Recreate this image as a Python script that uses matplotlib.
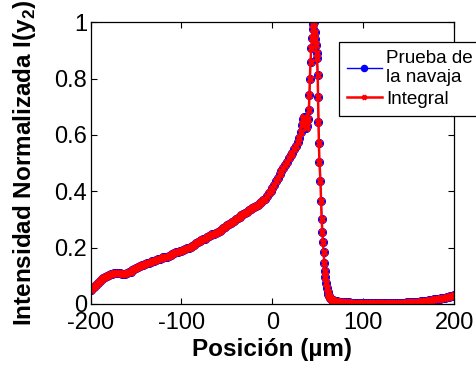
import numpy as np
import matplotlib
matplotlib.use("Agg")
from matplotlib import pyplot as plt

plt.rcParams['font.family'] = ['Liberation Sans', 'DejaVu Sans']
plt.rcParams['mathtext.fontset'] = 'custom'
plt.rcParams['mathtext.rm'] = 'Liberation Sans:bold'
plt.rcParams['mathtext.bf'] = 'Liberation Sans:bold'
plt.rcParams['axes.unicode_minus'] = False

# lado izquierdo, cada 2 um
x_izq = np.arange(-200, 29, 2)
y_izq = [0.050, 0.056, 0.062, 0.069, 0.075, 0.081, 0.087, 0.092, 0.097, 0.101,
         0.104, 0.106, 0.108, 0.109, 0.110, 0.110, 0.109, 0.108, 0.108, 0.108,
         0.110, 0.112, 0.115, 0.119, 0.124, 0.128, 0.132, 0.135, 0.138, 0.140,
         0.143, 0.145, 0.147, 0.149, 0.151, 0.153, 0.155, 0.158, 0.160, 0.163,
         0.165, 0.166, 0.168, 0.170, 0.173, 0.176, 0.180, 0.183, 0.185, 0.187,
         0.189, 0.191, 0.194, 0.197, 0.200, 0.203, 0.207, 0.211, 0.215, 0.219,
         0.223, 0.226, 0.229, 0.232, 0.236, 0.240, 0.243, 0.247, 0.250, 0.253,
         0.256, 0.260, 0.264, 0.269, 0.274, 0.279, 0.283, 0.287, 0.292, 0.296,
         0.300, 0.304, 0.309, 0.314, 0.319, 0.324, 0.328, 0.333, 0.337, 0.340,
         0.344, 0.348, 0.352, 0.357, 0.362, 0.368, 0.374, 0.383, 0.392, 0.401,
         0.410, 0.422, 0.435, 0.448, 0.460, 0.471, 0.482, 0.494, 0.505, 0.517,
         0.528, 0.537, 0.550, 0.562, 0.575]

# zona del pico
x_pico = [29.5, 31.0, 32.5, 33.5, 34.5, 35.5, 36.5, 37.5, 38.5, 39.5,
          40.2, 40.8, 41.3, 42.0, 42.8, 43.6, 44.4, 45.2, 45.8, 46.6,
          47.4, 48.0, 48.7, 49.2, 49.9, 50.3, 50.7, 51.2, 51.8, 52.9,
          53.6, 54.3, 55.0, 55.7, 56.4, 57.1, 57.7, 58.4, 59.2, 60.0,
          60.8, 61.6, 62.4, 63.4, 64.4, 65.6, 66.8, 68.0, 69.5, 71.0]
y_pico = [0.590, 0.610, 0.635, 0.655, 0.665, 0.660, 0.640, 0.625, 0.630, 0.655,
          0.690, 0.741, 0.800, 0.860, 0.907, 0.944, 0.977, 0.995, 1.000, 0.966,
          0.940, 0.918, 0.890, 0.871, 0.812, 0.735, 0.646, 0.570, 0.504, 0.437,
          0.365, 0.301, 0.256, 0.219, 0.183, 0.144, 0.118, 0.097, 0.073, 0.055,
          0.043, 0.034, 0.028, 0.022, 0.018, 0.015, 0.013, 0.011, 0.010, 0.009]

# lado derecho, cada 2 um
x_der = np.arange(72, 201, 2)
y_der = [0.008, 0.008, 0.007, 0.007, 0.006, 0.006, 0.006, 0.005, 0.005, 0.005,
         0.004, 0.004, 0.004, 0.004, 0.004, 0.004, 0.004, 0.004, 0.004, 0.004,
         0.004, 0.004, 0.004, 0.004, 0.004, 0.004, 0.004, 0.004, 0.004, 0.004,
         0.004, 0.004, 0.004, 0.005, 0.005, 0.005, 0.005, 0.005, 0.006, 0.006,
         0.006, 0.006, 0.007, 0.007, 0.008, 0.008, 0.009, 0.010, 0.011, 0.012,
         0.013, 0.014, 0.015, 0.016, 0.017, 0.018, 0.019, 0.020, 0.021, 0.023,
         0.025, 0.026, 0.028, 0.030, 0.032]

pos = np.concatenate([x_izq, x_pico, x_der])
navaja = np.concatenate([y_izq, y_pico, y_der])
integral = navaja.copy()

fig = plt.figure(figsize=(4.77, 3.67), dpi=100)
ax = fig.add_axes([0.190, 0.1717, 0.762, 0.768])

ax.plot(pos, navaja, color='blue', lw=1, marker='o', ms=5.5,
        mfc='blue', mec='blue', label='Prueba de\nla navaja')
ax.plot(pos, integral, color='red', lw=1.8, marker='x', ms=4.2, mew=2,
        label='Integral')

ax.set_xlim(-200, 200)
ax.set_ylim(0, 1)
ax.set_xticks([-200, -100, 0, 100, 200])
ax.set_yticks([0, 0.2, 0.4, 0.6, 0.8, 1])
ax.set_yticklabels(['0', '0.2', '0.4', '0.6', '0.8', '1'])
ax.tick_params(direction='in', top=True, right=True, length=4, width=0.8,
               labelsize=17)
ax.tick_params(axis='x', pad=6)
ax.tick_params(axis='y', pad=2.5)
for s in ax.spines.values():
    s.set_linewidth(0.9)

ax.set_xlabel('Posición (µm)', fontsize=17.5, fontweight='bold', labelpad=3)
ax.set_ylabel(r'Intensidad Normalizada I(y$_{2}$)', fontsize=17.5,
              fontweight='bold', labelpad=12)

leg = ax.legend(loc='upper left', bbox_to_anchor=(339/477, 1-42/367),
                bbox_transform=fig.transFigure, borderaxespad=0,
                fontsize=13.6, fancybox=False, framealpha=1, edgecolor='black',
                handlelength=1.9, handletextpad=0.2, borderpad=0.4,
                labelspacing=0.25, markerscale=0.8)
leg.get_frame().set_linewidth(0.9)

fig.savefig('out.png', dpi=100)
